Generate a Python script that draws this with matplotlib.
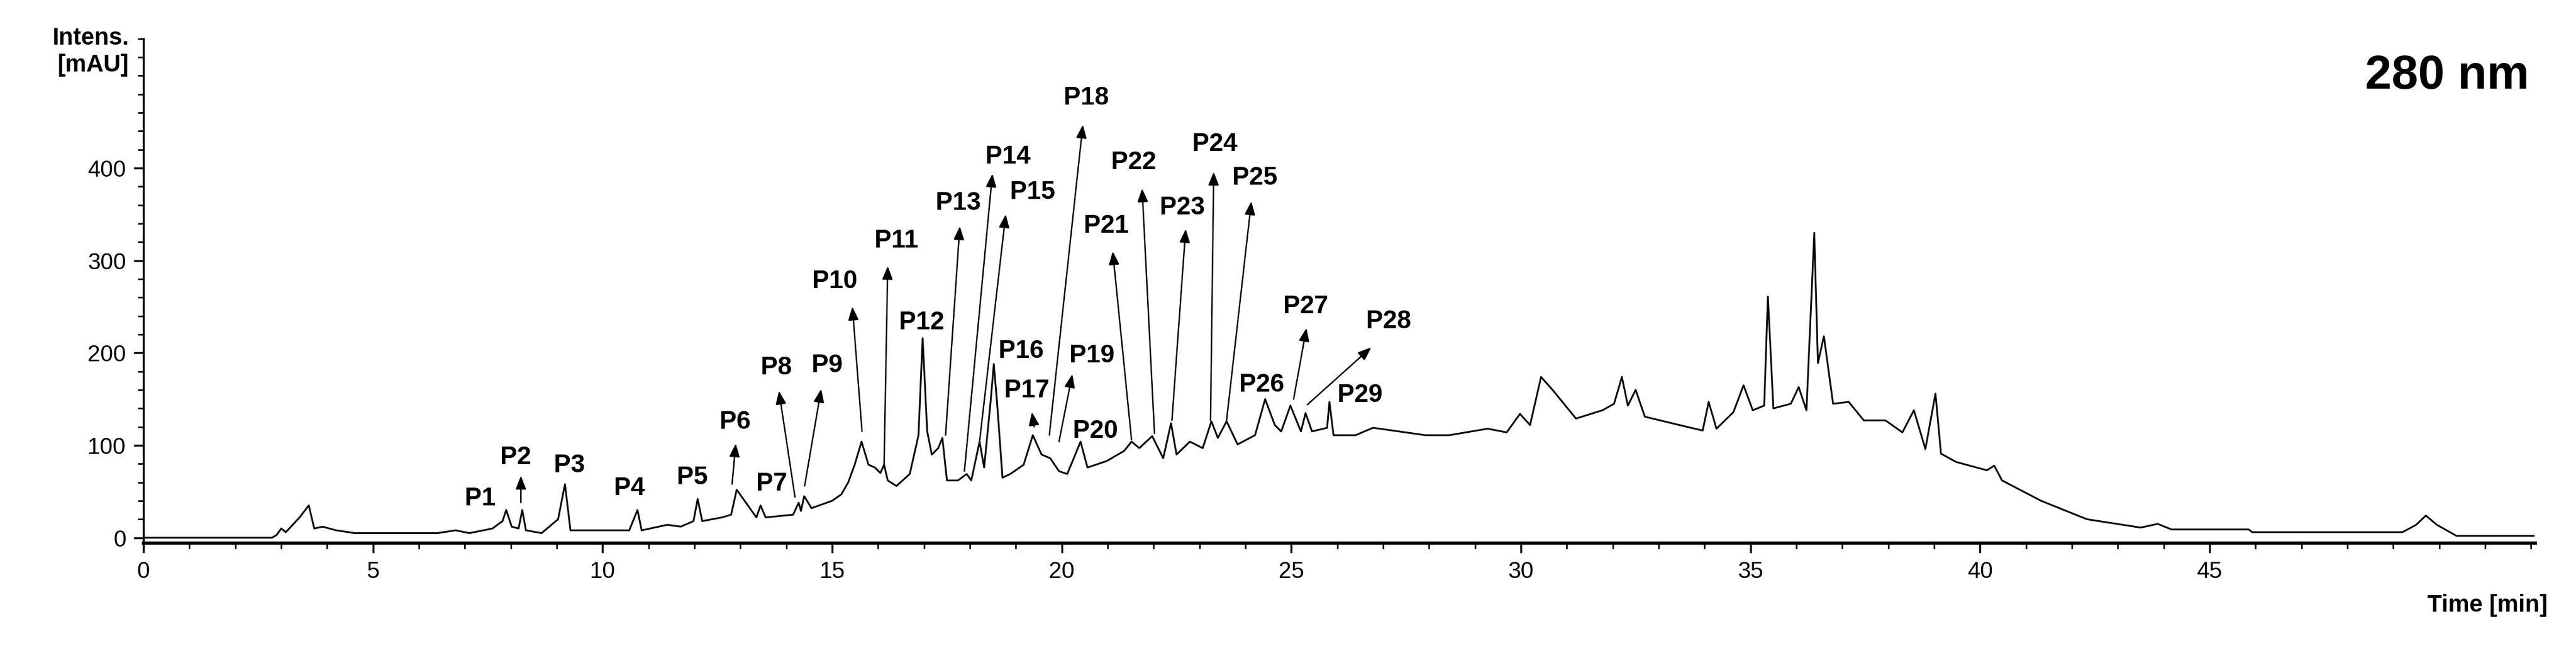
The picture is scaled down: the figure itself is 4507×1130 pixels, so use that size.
import matplotlib
matplotlib.use("Agg")
import matplotlib.pyplot as plt
from matplotlib.ticker import MultipleLocator

plt.rcParams["font.family"] = ["Liberation Sans Narrow", "Liberation Sans", "DejaVu Sans"]

# chromatogram trace (min, mAU)
time_min = [
    0.0, 2.8, 2.9, 3.0, 3.1, 3.25, 3.4, 3.6, 3.72, 3.9, 4.2, 4.6, 6.4, 6.8, 7.1, 7.6,
    7.82, 7.9, 8.02, 8.17, 8.25, 8.33, 8.67, 9.03, 9.18, 9.3, 10.58, 10.76, 10.85, 11.41, 11.7,
    11.98, 12.07, 12.17, 12.6, 12.8, 12.92, 13.35, 13.44, 13.55, 14.15, 14.27, 14.32, 14.39, 14.55,
    15.0, 15.2, 15.35, 15.49, 15.64, 15.79, 15.93, 16.05, 16.13, 16.21, 16.4, 16.69, 16.88, 16.97,
    17.07, 17.17, 17.31, 17.4, 17.5, 17.74, 17.93, 18.03, 18.21, 18.31, 18.45, 18.52, 18.59,
    18.71, 18.88, 19.17, 19.37, 19.56, 19.75, 19.94, 20.12, 20.41, 20.56, 20.98, 21.36, 21.52,
    21.69, 21.97, 22.21, 22.38, 22.5, 22.79, 23.07, 23.26, 23.4, 23.59, 23.83, 24.21, 24.43,
    24.64, 24.78, 24.98, 25.21, 25.31, 25.45, 25.78, 25.83, 25.92, 26.4, 26.78, 27.35, 27.92,
    28.44, 29.28, 29.69, 29.98, 30.2, 30.44, 30.69, 31.2, 31.78, 32.03, 32.2, 32.33, 32.5, 32.7,
    33.45, 33.96, 34.09, 34.26, 34.63, 34.85, 35.05, 35.3, 35.38, 35.5, 35.88, 36.05, 36.22,
    36.39, 36.47, 36.6, 36.8, 37.14, 37.47, 37.94, 38.31, 38.56, 38.81, 39.03, 39.15, 39.48,
    40.15, 40.31, 40.48, 41.33, 42.33, 43.5, 43.87, 44.17, 45.85, 45.93, 49.2, 49.5, 49.71,
    49.95, 50.38, 52.06,
]
intensity = [
    0, 0, 3, 10, 6, 14, 22, 35, 10, 12, 8, 5, 5, 8, 5, 10,
    18, 30, 12, 10, 30, 8, 5, 20, 58, 8, 8, 30, 8, 14, 12,
    18, 42, 18, 22, 25, 52, 22, 35, 22, 25, 38, 29, 45, 32,
    40, 47, 60, 79, 104, 79, 76, 70, 79, 62, 56, 69, 111, 216,
    115, 90, 97, 108, 62, 62, 69, 62, 104, 76, 147, 188, 147,
    65, 69, 79, 111, 90, 86, 72, 69, 104, 76, 83, 94, 104,
    97, 110, 86, 124, 90, 104, 97, 126, 108, 126, 101, 111, 150,
    122, 115, 143, 115, 135, 115, 119, 147, 111, 111, 119, 115, 111,
    111, 118, 114, 134, 122, 174, 160, 129, 138, 145, 174, 143, 160, 131,
    122, 116, 147, 118, 136, 165, 138, 143, 261, 140, 145, 163, 138,
    330, 189, 218, 145, 147, 127, 127, 114, 138, 96, 156, 91, 82,
    73, 78, 62, 40, 20, 11, 15, 9, 9, 6, 6, 14, 24,
    14, 2, 2,
]

# peak labels: name, label position, arrow tip, arrow tail (None = no arrow)
peak_names = ["P%d" % i for i in range(1, 30)]
label_x = [7.34, 8.10, 9.27, 10.58, 11.95, 12.88, 13.68, 13.78, 14.89, 15.06, 16.40, 16.95,
           17.75, 18.83, 19.37, 19.12, 19.24, 20.54, 20.66, 20.73, 20.97, 21.56, 22.62, 23.34,
           24.21, 24.35, 25.31, 27.12, 26.50]
label_y = [42, 87, 78, 53, 65, 125, 58, 184, 186, 277, 321, 233,
           362, 412, 374, 202, 159, 476, 197, 115, 337, 406, 357, 426,
           389, 165, 250, 234, 154]
tip_x = [None, 8.22, None, None, None, 12.90, None, 13.84, 14.76, 15.44, 16.21, None,
         17.78, 18.49, 18.78, None, 19.35, 20.46, 20.23, None, 21.11, 21.75, 22.70, 23.31,
         24.13, None, 25.33, 26.74, None]
tip_y = [None, 67, None, None, None, 102, None, 159, 161, 250, 294, None,
         337, 394, 350, None, 136, 447, 177, None, 310, 378, 334, 396,
         364, None, 227, 206, None]
tail_x = [None, 8.22, None, None, None, 12.82, None, 14.19, 14.40, 15.65, 16.13, None,
          17.47, 17.88, 18.21, None, 19.40, 19.73, 19.94, None, 21.52, 22.02, 22.40, 23.24,
          23.59, None, 25.05, 25.35, None]
tail_y = [None, 38, None, None, None, 58, None, 44, 56, 115, 79, None,
          111, 72, 104, None, 120, 111, 104, None, 106, 113, 127, 127,
          127, None, 150, 144, None]

fig = plt.figure(figsize=(45.07, 11.3), dpi=100)
ax = fig.add_axes([0.0557, 0.159, 0.9286, 0.781])
ax.plot(time_min, intensity, color="black", lw=2.2)

for i, name in enumerate(peak_names):
    ax.text(label_x[i], label_y[i], name, ha="center", va="center",
            fontsize=32, fontweight="bold")
    if tip_x[i] is not None:
        ax.annotate("", xy=(tip_x[i], tip_y[i]), xytext=(tail_x[i], tail_y[i]),
                    arrowprops=dict(arrowstyle="-|>,head_length=1.4,head_width=0.55",
                                    color="black", lw=1.8, shrinkA=0, shrinkB=0))

ax.set_xlim(0, 52.1)
ax.set_ylim(-6, 540)
ax.xaxis.set_major_locator(MultipleLocator(5))
ax.xaxis.set_minor_locator(MultipleLocator(1))
ax.yaxis.set_major_locator(MultipleLocator(100))
ax.yaxis.set_minor_locator(MultipleLocator(20))
ax.set_xticks([0, 5, 10, 15, 20, 25, 30, 35, 40, 45])
ax.set_yticks([0, 100, 200, 300, 400])
ax.tick_params(axis="both", which="major", labelsize=29, length=12, width=2.5, pad=10)
ax.tick_params(axis="both", which="minor", length=7, width=2)
ax.spines["top"].set_visible(False)
ax.spines["right"].set_visible(False)
ax.spines["bottom"].set_linewidth(4)
ax.spines["left"].set_linewidth(2.5)

fig.text(0.050, 0.92, "Intens.\n[mAU]", ha="right", va="center", fontsize=30,
         fontweight="bold", linespacing=1.25)
fig.text(0.989, 0.063, "Time [min]", ha="right", va="center", fontsize=30, fontweight="bold")
fig.text(0.950, 0.882, "280 nm", ha="center", va="center", fontsize=60, fontweight="bold")

fig.savefig("out.png", dpi=100)
